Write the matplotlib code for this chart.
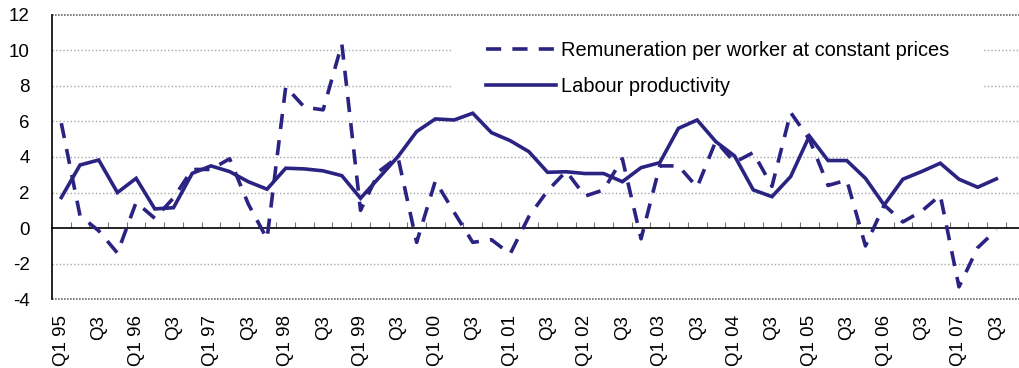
import matplotlib
matplotlib.use("Agg")
import matplotlib.pyplot as plt
import matplotlib.transforms as mtransforms
from matplotlib.patches import Rectangle
import numpy as np

plt.rcParams['font.family'] = ['Liberation Sans', 'DejaVu Sans']

# quarterly, Q1 1995 .. Q3 2007
years = ['95', '96', '97', '98', '99', '00', '01', '02', '03', '04', '05', '06', '07']
labels = []
for y in years:
    labels += ['Q1 ' + y, '', 'Q3', '']
labels = labels[:51]

remuneration = [5.9, 0.7, -0.15, -1.4, 1.45, 0.55, 1.7, 3.3, 3.3, 3.9,
                1.35, -0.6, 7.95, 6.8, 6.65, 10.35, 1.0, 3.2, 4.0, -0.8,
                2.65, 0.9, -0.8, -0.65, -1.45, 0.65, 2.1, 3.2, 1.8, 2.15,
                3.9, -0.6, 3.5, 3.5, 2.3, 4.9, 3.7, 4.25, 2.35, 6.5,
                5.0, 2.4, 2.7, -1.0, 1.3, 0.35, 0.95, 1.85, -3.3, -1.1,
                -0.1]
productivity = [1.72, 3.55, 3.83, 2.0, 2.8, 1.08, 1.15, 3.08, 3.5, 3.18,
                2.61, 2.19, 3.37, 3.33, 3.22, 2.95, 1.68, 2.85, 4.02, 5.43,
                6.14, 6.08, 6.46, 5.37, 4.92, 4.3, 3.14, 3.17, 3.07, 3.07,
                2.61, 3.4, 3.68, 5.61, 6.08, 4.86, 4.06, 2.15, 1.77, 2.9,
                5.18, 3.8, 3.8, 2.8, 1.3, 2.75, 3.18, 3.65, 2.75, 2.3,
                2.77]

navy = '#2b2382'
x = np.arange(len(labels))

fig = plt.figure(figsize=(10.19, 3.68), dpi=100)
ax = fig.add_axes([0.051, 0.1867, 0.949, 0.7734])

ax.plot(x, remuneration, color=navy, lw=2.6, dashes=(4.2, 3.1),
        label='Remuneration per worker at constant prices', zorder=3)
ax.plot(x, productivity, color=navy, lw=2.6, solid_joinstyle='miter',
        label='Labour productivity', zorder=3)

ax.set_xlim(-0.5, 51.21)
ax.set_ylim(-4, 12)
ax.set_yticks(range(-4, 13, 2))
ax.set_yticklabels([str(v) for v in range(-4, 13, 2)])

# dotted horizontal grid
for v in range(-2, 11, 2):
    if v != 0:
        ax.axhline(v, color='#a8a8a8', lw=1.0, ls=(0, (1, 1.6)), zorder=0.5)
for v in (-4, 12):
    ax.axhline(v, color='#6a6a6a', lw=1.2, ls=(0, (1, 0.8)), zorder=0.5, clip_on=False)

# x axis sits on the zero line, labels stay below the plot
ax.spines['bottom'].set_position(('data', 0))
ax.spines['bottom'].set_linewidth(1.2)
ax.spines['left'].set_linewidth(1.2)
ax.spines['top'].set_visible(False)
ax.spines['right'].set_visible(False)

ax.set_xticks(x)
ax.set_xticklabels(labels, rotation=90, va='top', ha='center')
ax.set_xticks(np.arange(0.5, 51, 1), minor=True)
ax.tick_params(axis='x', which='major', length=0, pad=62.5, labelsize=13.5)
ax.tick_params(axis='x', which='minor', direction='in', length=4.2,
               width=0.8, color='#777777')
ax.tick_params(axis='y', length=0, pad=16, labelsize=13.5)

# white box behind the legend hides the grid there
trans = mtransforms.blended_transform_factory(ax.transAxes, ax.transData)
ax.add_patch(Rectangle((0.4137, 7.2), 0.548, 3.6, transform=trans,
                       facecolor='white', edgecolor='none', zorder=1))

leg = ax.legend(loc='upper left', bbox_to_anchor=(486 / 1019, 1 - 41 / 368),
                bbox_transform=fig.transFigure, frameon=False,
                fontsize=14.4, handlelength=3.5, handletextpad=0.25,
                labelspacing=0.85, borderpad=0, borderaxespad=0)

fig.savefig('out.png', dpi=100)
